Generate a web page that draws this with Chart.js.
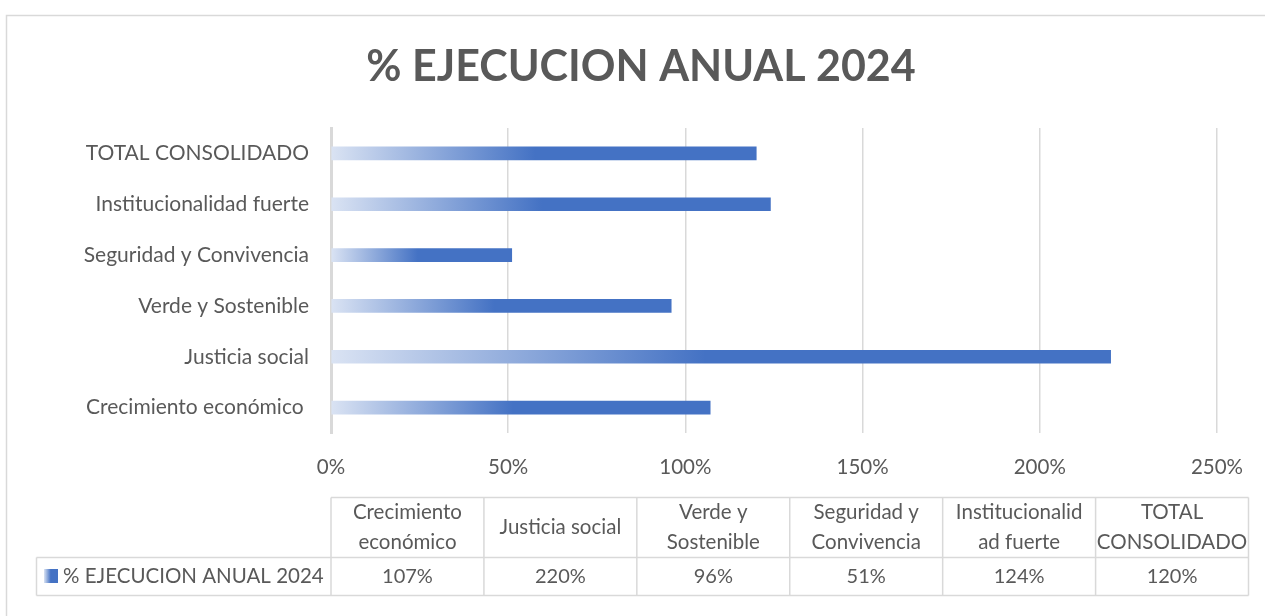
<!DOCTYPE html>
<html>
<head>
<meta charset="utf-8">
<script src="https://cdn.jsdelivr.net/npm/chart.js@4/dist/chart.umd.min.js"></script>
<style>
html,body{margin:0;padding:0;background:#fff;}
canvas{display:block;}
</style>
</head>
<body>
<canvas id="c" width="1265" height="616"></canvas>
<script>
const chartTitle = "% EJECUCION ANUAL 2024";
const seriesName = "% EJECUCION ANUAL 2024";
const categories = ["Crecimiento económico ", "Justicia social", "Verde y Sostenible", "Seguridad y Convivencia", "Institucionalidad fuerte", "TOTAL CONSOLIDADO"];
const values = [107, 220, 96, 51, 124, 120];
const tableHeaders = [["Crecimiento","económico"], ["Justicia social"], ["Verde y","Sostenible"], ["Seguridad y","Convivencia"], ["Institucionalid","ad fuerte"], ["TOTAL","CONSOLIDADO"]];
const tickValues = [0, 50, 100, 150, 200, 250];

const FONT = "Lato, 'Open Sans', sans-serif";
const TXT = "#595959";
const GRID = "#d9d9d9";
const LIGHT = "#dae3f3";
const BLUE = "#4472c4";

function barGradient(ctx) {
  const chart = ctx.chart;
  const xs = chart.scales.x;
  if (!xs || ctx.dataIndex === undefined) return BLUE;
  const x0 = xs.getPixelForValue(0);
  const x1 = xs.getPixelForValue(values[ctx.dataIndex]);
  if (!isFinite(x0) || !isFinite(x1) || x1 <= x0) return BLUE;
  const g = chart.ctx.createLinearGradient(x0, 0, x1, 0);
  g.addColorStop(0, LIGHT);
  g.addColorStop(0.48, BLUE);
  g.addColorStop(1, BLUE);
  return g;
}

const decor = {
  id: 'decor',
  beforeDraw(chart) {
    const c = chart.ctx;
    c.save();
    c.fillStyle = '#fff';
    c.fillRect(0, 0, chart.width, chart.height);
    c.strokeStyle = GRID;
    c.lineWidth = 1.5;
    c.beginPath();
    c.moveTo(6.5, chart.height + 5);
    c.lineTo(6.5, 15.5);
    c.lineTo(chart.width + 5, 15.5);
    c.stroke();
    c.fillStyle = TXT;
    c.font = "bold 43px " + FONT;
    c.textAlign = 'center';
    c.textBaseline = 'middle';
    c.fillText(chartTitle, 641, 67);
    c.restore();
  },
  afterDraw(chart) {
    const c = chart.ctx;
    const xs = chart.scales.x;
    const left = xs.left;
    const right = 1248.5;
    const colW = (right - left) / categories.length;
    const top = 497.5, mid = 557.5, bot = 595.5, legLeft = 36.5;
    c.save();
    c.strokeStyle = GRID;
    c.lineWidth = 1.5;
    c.beginPath();
    c.moveTo(left, top); c.lineTo(right, top);
    c.moveTo(legLeft, mid); c.lineTo(right, mid);
    c.moveTo(legLeft, bot); c.lineTo(right, bot);
    c.moveTo(legLeft, mid); c.lineTo(legLeft, bot);
    for (let i = 0; i <= categories.length; i++) {
      const x = left + i * colW;
      c.moveTo(x, top); c.lineTo(x, bot);
    }
    c.stroke();
    c.fillStyle = TXT;
    c.textAlign = 'center';
    c.textBaseline = 'middle';
    for (let i = 0; i < categories.length; i++) {
      const cx = left + (i + 0.5) * colW;
      const lines = tableHeaders[i];
      c.font = "20.5px " + FONT;
      if (lines.length === 1) {
        c.fillText(lines[0], cx, (top + mid) / 2);
      } else {
        c.fillText(lines[0], cx, top + 15);
        c.fillText(lines[1], cx, top + 45);
      }
      c.font = "20px " + FONT;
      c.fillText(values[i] + "%", cx, (mid + bot) / 2);
    }
    const g = c.createLinearGradient(44, 0, 58, 0);
    g.addColorStop(0, LIGHT);
    g.addColorStop(0.48, BLUE);
    g.addColorStop(1, BLUE);
    c.fillStyle = g;
    c.fillRect(44, 569, 14, 14);
    c.fillStyle = TXT;
    c.textAlign = 'left';
    c.font = "20.5px " + FONT;
    c.fillText(seriesName, 63, (mid + bot) / 2);
    c.restore();
  }
};

new Chart(document.getElementById('c'), {
  type: 'bar',
  data: {
    labels: categories,
    datasets: [{
      label: seriesName,
      data: values,
      backgroundColor: barGradient,
      borderWidth: 0,
      barThickness: 13
    }]
  },
  options: {
    indexAxis: 'y',
    responsive: false,
    animation: false,
    devicePixelRatio: 1,
    layout: { padding: { left: 0, right: 44, top: 128, bottom: 133 } },
    plugins: {
      legend: { display: false },
      title: { display: false },
      tooltip: { enabled: false }
    },
    scales: {
      x: {
        min: 0, max: 250,
        afterFit(s) { s.height = 50; },
        afterBuildTicks(s) { s.ticks = tickValues.map(v => ({ value: v })); },
        grid: { color: GRID, lineWidth: 1.5, drawTicks: false },
        border: { display: false },
        ticks: {
          padding: 22,
          color: TXT,
          font: { family: FONT, size: 20.5 },
          callback: v => v + "%"
        }
      },
      y: {
        reverse: true,
        afterFit(s) { s.width = 331; },
        grid: { display: false, drawTicks: false },
        border: { display: true, color: GRID, width: 3 },
        ticks: {
          padding: 22,
          color: TXT,
          font: { family: FONT, size: 21 }
        }
      }
    }
  },
  plugins: [decor]
});
</script>
</body>
</html>
